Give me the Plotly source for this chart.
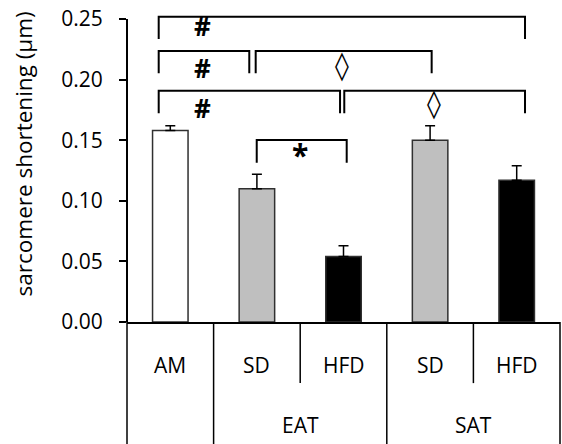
import plotly.graph_objects as go

# ---- data ----
groups = ["", "EAT", "EAT", "SAT", "SAT"]
diets = ["AM", "SD", "HFD", "SD", "HFD"]
values = [0.158, 0.110, 0.054, 0.150, 0.117]
errors = [0.004, 0.012, 0.009, 0.012, 0.012]
fills = ["#FFFFFF", "#BFBFBF", "#000000", "#BFBFBF", "#000000"]
yticks = [0.00, 0.05, 0.10, 0.15, 0.20, 0.25]
ytitle = "sarcomere shortening (µm)"

# significance brackets: (x_left, x_right, y_top, y_bottom, label, label_x, label_y)
brackets = [
    (-0.134, 4.096, 0.2519, 0.2335, "#", 0.376, 0.2442),
    (-0.134, 0.912, 0.2236, 0.2054, "#", 0.376, 0.2096),
    (0.986, 3.018, 0.2236, 0.2054, "◊", 1.985, 0.2120),
    (-0.134, 1.960, 0.1908, 0.1724, "#", 0.376, 0.1766),
    (2.009, 4.096, 0.1908, 0.1724, "◊", 3.040, 0.1800),
    (0.998, 2.037, 0.1502, 0.1314, "*", 1.500, 0.1380),
]

FONT = "Open Sans"
xpos = list(range(len(diets)))

fig = go.Figure()
fig.add_trace(go.Bar(
    x=xpos, y=values, width=0.41,
    marker=dict(color=fills, line=dict(color="#303030", width=1.5)),
    error_y=dict(type="data", symmetric=False, array=errors,
                 arrayminus=[0] * len(errors), color="black",
                 thickness=1.5, width=5),
    showlegend=False,
))

shapes = []
# y axis line (only up to top tick)
shapes.append(dict(type="line", xref="paper", yref="y", x0=0, x1=0,
                   y0=0, y1=yticks[-1], line=dict(color="black", width=2)))

# category table below the axis
bottom = -0.40
mid = -0.194
n = len(diets)
boundaries_full = [-0.5]
for i in range(1, n):
    if groups[i] != groups[i - 1]:
        boundaries_full.append(i - 0.5)
boundaries_full.append(n - 0.5)
for b in boundaries_full:
    px = (b + 0.5) / n
    shapes.append(dict(type="line", xref="paper", yref="paper", x0=px, x1=px,
                       y0=0, y1=bottom, line=dict(color="black", width=1.5)))
for i in range(1, n):
    if groups[i] == groups[i - 1]:
        px = i / n
        shapes.append(dict(type="line", xref="paper", yref="paper", x0=px, x1=px,
                           y0=0, y1=mid, line=dict(color="black", width=1.5)))

annotations = []
for i, d in enumerate(diets):
    annotations.append(dict(x=i, y=-0.1365, xref="x", yref="paper", text=d,
                            showarrow=False, font=dict(family=FONT, size=21, color="black"),
                            xanchor="center", yanchor="middle"))
seen = {}
for i, g in enumerate(groups):
    if g:
        seen.setdefault(g, []).append(i)
for g, idx in seen.items():
    annotations.append(dict(x=sum(idx) / len(idx), y=-0.327, xref="x", yref="paper",
                            text=g, showarrow=False,
                            font=dict(family=FONT, size=21, color="black"),
                            xanchor="center", yanchor="middle"))

sym_font = {"#": ("Open Sans", 26), "◊": ("DejaVu Sans", 28), "*": ("Open Sans", 30)}
for (xl, xr, yt, yb, lab, lx, ly) in brackets:
    shapes.append(dict(type="path", xref="x", yref="y",
                       path=f"M {xl},{yb} L {xl},{yt} L {xr},{yt} L {xr},{yb}",
                       line=dict(color="black", width=2)))
    fam, sz = sym_font[lab]
    annotations.append(dict(x=lx, y=ly, xref="x", yref="y",
                            text=f"<b>{lab}</b>" if lab != "◊" else lab,
                            showarrow=False,
                            font=dict(family=fam, size=sz, color="black"),
                            xanchor="center", yanchor="middle"))

annotations.append(dict(x=-0.238, y=0.535, xref="paper", yref="paper", text=ytitle,
                        textangle=-90, showarrow=False,
                        font=dict(family=FONT, size=22.5, color="black"),
                        xanchor="center", yanchor="middle"))

fig.update_layout(
    width=562, height=444,
    margin=dict(l=127, r=2, t=7, b=122),
    paper_bgcolor="white", plot_bgcolor="white",
    shapes=shapes, annotations=annotations,
    xaxis=dict(range=[-0.5, n - 0.5], showticklabels=False, ticks="",
               showgrid=False, zeroline=False, showline=True,
               linecolor="black", linewidth=2),
    yaxis=dict(range=[0, 0.26], tickvals=yticks, tickformat=".2f",
               ticks="outside", ticklen=7, tickwidth=1.5, tickcolor="black",
               showgrid=False, zeroline=False, showline=False,
               ticklabelstandoff=12,
               tickfont=dict(family=FONT, size=21, color="black")),
    font=dict(family=FONT, color="black"),
)

fig.write_html("out.html", config={"displayModeBar": False},
               post_script="document.body.style.margin='0';document.body.style.overflow='hidden';")
